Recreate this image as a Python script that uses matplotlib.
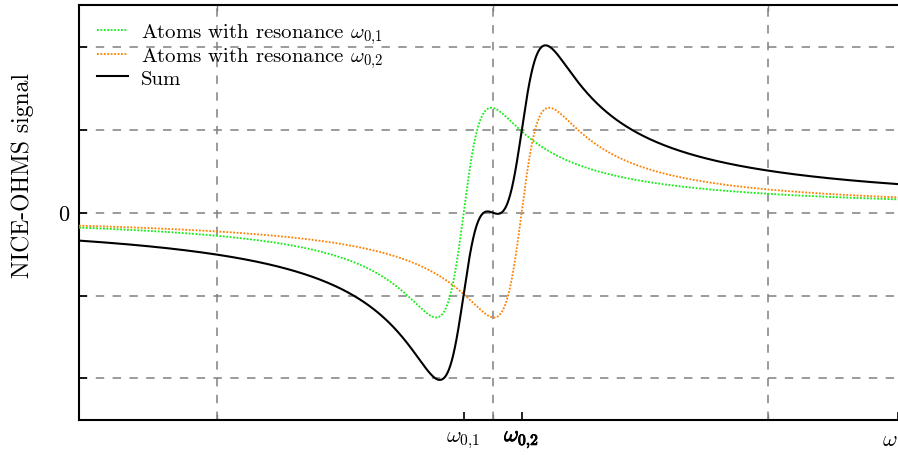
import matplotlib
matplotlib.use("Agg")
import matplotlib.pyplot as plt
import matplotlib.patheffects as pe
import numpy as np

plt.rcParams['font.family'] = 'cmr10'
plt.rcParams['mathtext.fontset'] = 'cm'
plt.rcParams['axes.formatter.use_mathtext'] = True
plt.rcParams['font.size'] = 16

# Values (x in grid units, y in grid units)
resonances = [-0.105, 0.105]      # omega_0,1 and omega_0,2
linewidth_gamma = 0.10            # half width of the dispersion profile
amplitude = 1.265                 # peak height of each dispersion profile
labels = [r'Atoms with resonance $\omega_{0{,}1}$', r'Atoms with resonance $\omega_{0{,}2}$', 'Sum']
colors = ['#11ee11', '#ff8000', 'black']
x_grid = [-1, 0, 1]
y_grid = [-2, -1, 0, 1, 2]

x = np.linspace(-1.5, 1.47, 3000)

def dispersion(x, x0, g, a):
    d = x - x0
    return 2 * a * d * g / (d**2 + g**2)

sig1 = dispersion(x, resonances[0], linewidth_gamma, amplitude)
sig2 = dispersion(x, resonances[1], linewidth_gamma, amplitude)

fig = plt.figure(figsize=(8.98, 4.56), dpi=100)
ax = fig.add_axes([0.088, 0.077, 0.912, 0.909])

for gx in x_grid:
    ax.axvline(gx, color='#808080', lw=1.1, dashes=(5.5, 5.5), zorder=1)
for gy in y_grid:
    ax.axhline(gy, color='#808080', lw=1.1, dashes=(5.5, 5.5), zorder=1)

ax.plot(x, sig1, color=colors[0], lw=1.3, linestyle=(0, (1, 0.9)), label=labels[0], zorder=3)
ax.plot(x, sig2, color=colors[1], lw=1.3, linestyle=(0, (1, 0.9)), label=labels[1], zorder=3)
ax.plot(x, sig1 + sig2, color=colors[2], lw=1.5, label=labels[2], zorder=4)

ax.set_xlim(-1.5, 1.47)
ax.set_ylim(-2.5, 2.5)

ax.set_xticks([resonances[0], resonances[1], 1.47])
ax.set_xticklabels([r'$\omega_{0{,}1}$', r'$\omega_{0{,}2}$', r'$\omega$'])
tl = ax.get_xticklabels()
tl[1].set_path_effects([pe.withStroke(linewidth=0.7, foreground='black')])
tl[2].set_horizontalalignment('right')
ax.set_xticks(x_grid, minor=True)
ax.set_yticks(y_grid)
ax.set_yticklabels(['', '', '0', '', ''])
ax.tick_params(axis='both', which='major', direction='in', length=6, width=1.2, pad=7)
ax.tick_params(axis='x', which='minor', direction='in', length=4, width=1, top=True, color='#808080')
ax.spines['right'].set_visible(False)
for s in ['left', 'top', 'bottom']:
    ax.spines[s].set_linewidth(1.5)

ax.set_ylabel('NICE-OHMS signal', fontsize=17)
ax.yaxis.set_label_coords(-0.055, 0.593)

ax.legend(loc='upper left', bbox_to_anchor=(0.004, 0.997), frameon=False, handlelength=1.5,
          handletextpad=0.6, labelspacing=-0.05, borderaxespad=0.3, fontsize=15)

fig.savefig('out.png', dpi=100)
